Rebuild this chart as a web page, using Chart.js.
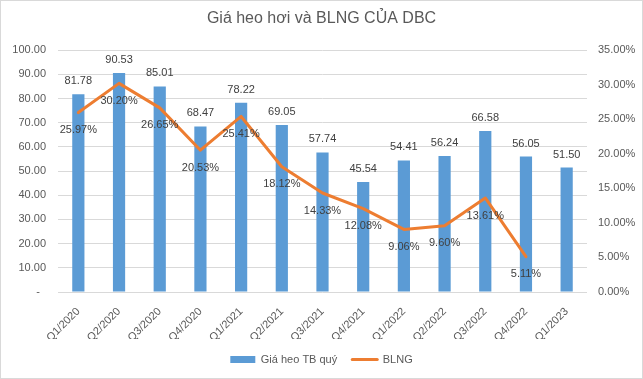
<!DOCTYPE html>
<html><head><meta charset="utf-8">
<script src="https://cdn.jsdelivr.net/npm/chart.js@4.4.0/dist/chart.umd.min.js"></script>
<style>html,body{margin:0;padding:0;background:#fff;}#wrap{width:643px;height:379px;}</style>
</head><body><div id="wrap"><canvas id="c" width="643" height="379"></canvas></div>
<script>
const categories = ['Q1/2020','Q2/2020','Q3/2020','Q4/2020','Q1/2021','Q2/2021','Q3/2021','Q4/2021','Q1/2022','Q2/2022','Q3/2022','Q4/2022','Q1/2023'];
const pigPrice = [81.78, 90.53, 85.01, 68.47, 78.22, 69.05, 57.74, 45.54, 54.41, 56.24, 66.58, 56.05, 51.50];
const margin = [25.97, 30.20, 26.65, 20.53, 25.41, 18.12, 14.33, 12.08, 9.06, 9.60, 13.61, 5.11, null];
const leftMax = 100, leftStep = 10;
const rightMax = 35, rightStep = 5;
const titleText = 'Giá heo hơi và BLNG CỦA DBC';
const seriesNames = ['Giá heo TB quý', 'BLNG'];

const BLUE = '#5B9BD5', ORANGE = '#ED7D31', TXT = '#595959', LBL = '#404040';
Chart.defaults.font.family = '"Liberation Sans", Arial, sans-serif';
Chart.defaults.font.size = 11;
Chart.defaults.color = TXT;

const frame = {
  id: 'frame',
  beforeDraw(chart) {
    const c = chart.ctx; c.save(); c.fillStyle = '#fff'; c.fillRect(0, 0, chart.width, chart.height); c.restore();
  },
  afterDraw(chart) {
    const c = chart.ctx; c.save(); c.strokeStyle = '#D9D9D9'; c.lineWidth = 1;
    c.strokeRect(0.5, 0.5, chart.width - 1, chart.height - 1); c.restore();
  }
};
const labels = {
  id: 'labels',
  afterDatasetsDraw(chart) {
    const c = chart.ctx; c.save();
    c.font = '11px "Liberation Sans", Arial, sans-serif';
    c.fillStyle = LBL; c.textAlign = 'center'; c.textBaseline = 'middle';
    chart.getDatasetMeta(0).data.forEach((el, i) => {
      c.fillText(pigPrice[i].toFixed(2), el.x, el.y - 13);
    });
    chart.getDatasetMeta(1).data.forEach((el, i) => {
      if (margin[i] == null) return;
      c.fillText(margin[i].toFixed(2) + '%', el.x, el.y + 17.5);
    });
    c.restore();
  }
};

new Chart(document.getElementById('c'), {
  data: {
    labels: categories,
    datasets: [
      { type: 'bar', label: seriesNames[0], data: pigPrice, backgroundColor: BLUE, yAxisID: 'y',
        barPercentage: 0.3, categoryPercentage: 1, order: 2 },
      { type: 'line', label: seriesNames[1], data: margin, borderColor: ORANGE, backgroundColor: ORANGE,
        borderWidth: 3, pointRadius: 0, tension: 0, yAxisID: 'y1', order: 1,
        borderJoinStyle: 'round', borderCapStyle: 'round' }
    ]
  },
  options: {
    responsive: false, animation: false,
    layout: { padding: { left: 0, right: 0, top: 0, bottom: 4 } },
    plugins: {
      tooltip: { enabled: false },
      title: { display: true, text: titleText, color: TXT, font: { size: 16, weight: 'normal' },
        padding: { top: 9, bottom: 22 } },
      legend: {
        position: 'bottom',
        labels: {
          color: TXT, font: { size: 11 }, usePointStyle: true, pointStyleWidth: 25, boxHeight: 7, padding: 15,
          generateLabels: () => [
            { text: seriesNames[0], fillStyle: BLUE, strokeStyle: BLUE, lineWidth: 0, pointStyle: 'rect', datasetIndex: 0, fontColor: TXT },
            { text: seriesNames[1], fillStyle: ORANGE, strokeStyle: ORANGE, lineWidth: 3, pointStyle: 'line', datasetIndex: 1, fontColor: TXT, lineCap: 'round' }
          ]
        }
      }
    },
    scales: {
      x: {
        grid: { display: false }, border: { display: false },
        ticks: { color: TXT, minRotation: 45, maxRotation: 45, padding: 5, font: { size: 11 } },
        afterFit(s) { s.height = 47; }
      },
      y: {
        position: 'left', min: 0, max: leftMax,
        ticks: { stepSize: leftStep, color: TXT, padding: 12, callback: v => v === 0 ? '-  ' : v.toFixed(2) },
        grid: { color: '#D9D9D9', drawTicks: false }, border: { display: false },
        afterFit(s) { s.width = 58; }
      },
      y1: {
        position: 'right', min: 0, max: rightMax,
        ticks: { stepSize: rightStep, color: TXT, padding: 11, callback: v => v.toFixed(2) + '%' },
        grid: { display: false, drawTicks: false }, border: { display: false },
        afterFit(s) { s.width = 56; }
      }
    }
  },
  plugins: [frame, labels]
});
</script></body></html>
